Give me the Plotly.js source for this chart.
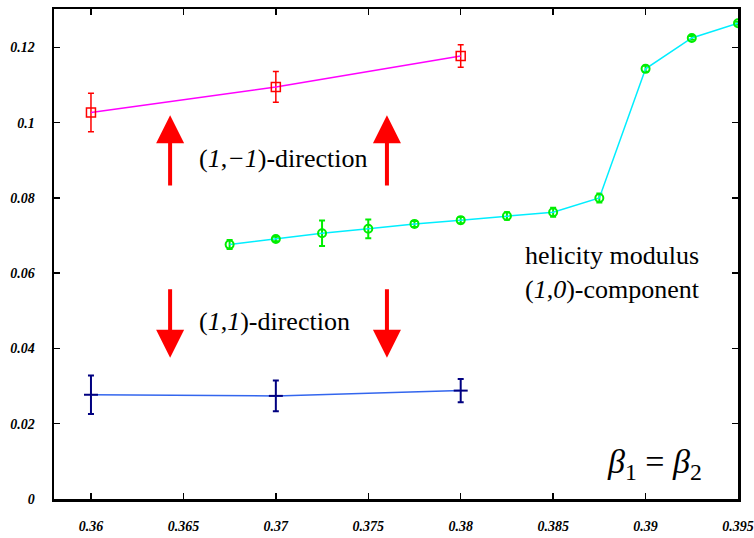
<!DOCTYPE html>
<html>
<head>
<meta charset="utf-8">
<script src="https://cdn.plot.ly/plotly-3.0.1.min.js"></script>
<style>html,body{margin:0;padding:0;background:#fff}#chart{width:754px;height:538px}</style>
</head>
<body>
<div id="chart"></div>
<script>
// (1,-1)-direction
const xDiag = [0.36, 0.37, 0.38];
const yDiag = [0.1027, 0.1095, 0.1177];
const eDiag = [0.0051, 0.0041, 0.003];
// (1,1)-direction
const xAnti = [0.36, 0.37, 0.38];
const yAnti = [0.0277, 0.0274, 0.0288];
const eAnti = [0.0051, 0.0041, 0.0031];
// helicity modulus (1,0)-component
const xComp = [0.3675, 0.37, 0.3725, 0.375, 0.3775, 0.38, 0.3825, 0.385, 0.3875, 0.39, 0.3925, 0.395];
const yComp = [0.0676, 0.0691, 0.0706, 0.0718, 0.0731, 0.0741, 0.0752, 0.0762, 0.0800, 0.1143, 0.1225, 0.1264];
const eComp = [0.0012, 0.0006, 0.0034, 0.0025, 0.0008, 0.0008, 0.001, 0.0012, 0.0012, 0.0008, 0.0005, 0.0004];
// ticks
const xTicks = [0.36, 0.365, 0.37, 0.375, 0.38, 0.385, 0.39, 0.395];
const xTickText = ['0.36', '0.365', '0.37', '0.375', '0.38', '0.385', '0.39', '0.395'];
const yTicks = [0, 0.02, 0.04, 0.06, 0.08, 0.1, 0.12];
const yTickText = ['0', '0.02', '0.04', '0.06', '0.08', '0.1', '0.12'];
// arrows: [x, yTip, yTail]
const arrowX = [0.36428, 0.37601];
const upArrow = [0.102, 0.0829];
const downArrow = [0.0375, 0.0561];

const SERIF = 'Liberation Serif, Times New Roman, Times, serif';

const traces = [
  {x: xDiag, y: yDiag, type: 'scatter', mode: 'lines+markers',
   line: {color: '#ff00ff', width: 1.5},
   marker: {symbol: 'square-open', size: 9, color: '#ff0000', line: {width: 1.5, color: '#ff0000'}},
   error_y: {type: 'data', array: eDiag, visible: true, color: '#ff0000', thickness: 1.5, width: 3}},
  {x: xAnti, y: yAnti, type: 'scatter', mode: 'lines+markers',
   line: {color: '#3366ee', width: 1.5},
   marker: {symbol: 'line-ew', size: 10, color: '#000080', line: {width: 2, color: '#000080'}},
   error_y: {type: 'data', array: eAnti, visible: true, color: '#000080', thickness: 2, width: 3}},
  {x: xComp, y: yComp, type: 'scatter', mode: 'lines+markers',
   line: {color: '#00eeff', width: 1.5},
   marker: {symbol: 'circle-open', size: 8, color: '#00ee00', line: {width: 2, color: '#00ee00'}},
   error_y: {type: 'data', array: eComp, visible: true, color: '#00ee00', thickness: 2, width: 3}}
];

const tickFont = {family: SERIF, size: 14, color: '#000000', weight: 700, style: 'italic'};
const axisCommon = {showline: true, linecolor: '#000', linewidth: 2.5, mirror: 'ticks', ticks: 'inside',
  ticklen: 6, tickwidth: 1.5, tickcolor: '#000', showgrid: false, zeroline: false, tickfont: tickFont, fixedrange: true};

const annFont = {family: SERIF, size: 26, color: '#000'};
const annotations = [
  {x: 0.36574, y: 0.0906, xref: 'x', yref: 'y', xanchor: 'left', text: '(<i>1</i>,<i>−1</i>)-direction', showarrow: false, font: annFont},
  {x: 0.36574, y: 0.0471, xref: 'x', yref: 'y', xanchor: 'left', text: '(<i>1</i>,<i>1</i>)-direction', showarrow: false, font: annFont},
  {x: 0.38337, y: 0.0646, xref: 'x', yref: 'y', xanchor: 'left', text: 'helicity modulus', showarrow: false, font: annFont},
  {x: 0.38337, y: 0.0556, xref: 'x', yref: 'y', xanchor: 'left', text: '(<i>1</i>,<i>0</i>)-component', showarrow: false, font: annFont},
  {x: 0.38781, y: 0.0092, xref: 'x', yref: 'y', xanchor: 'left', text: '<i>β</i><sub>1</sub> = <i>β</i><sub>2</sub>', showarrow: false,
   font: {family: SERIF, size: 34, color: '#000'}}
];
arrowX.forEach(ax => {
  annotations.push({x: ax, y: upArrow[0], ax: ax, ay: upArrow[1], xref: 'x', yref: 'y', axref: 'x', ayref: 'y',
    showarrow: true, arrowhead: 2, arrowsize: 1.4, arrowwidth: 4, arrowcolor: '#ff0000', text: ''});
  annotations.push({x: ax, y: downArrow[0], ax: ax, ay: downArrow[1], xref: 'x', yref: 'y', axref: 'x', ayref: 'y',
    showarrow: true, arrowhead: 2, arrowsize: 1.4, arrowwidth: 4, arrowcolor: '#ff0000', text: ''});
});

const layout = {
  width: 754, height: 538,
  margin: {l: 54, r: 16, t: 8.5, b: 38.5},
  paper_bgcolor: '#fff', plot_bgcolor: '#fff',
  showlegend: false,
  font: {family: SERIF},
  xaxis: Object.assign({}, axisCommon, {range: [0.358, 0.395], tickvals: xTicks, ticktext: xTickText, ticklabelstandoff: 13}),
  yaxis: Object.assign({}, axisCommon, {range: [0, 0.1302], tickvals: yTicks, ticktext: yTickText, ticklabelstandoff: 14}),
  annotations: annotations
};

Plotly.newPlot('chart', traces, layout, {displayModeBar: false, staticPlot: true});
</script>
</body>
</html>
